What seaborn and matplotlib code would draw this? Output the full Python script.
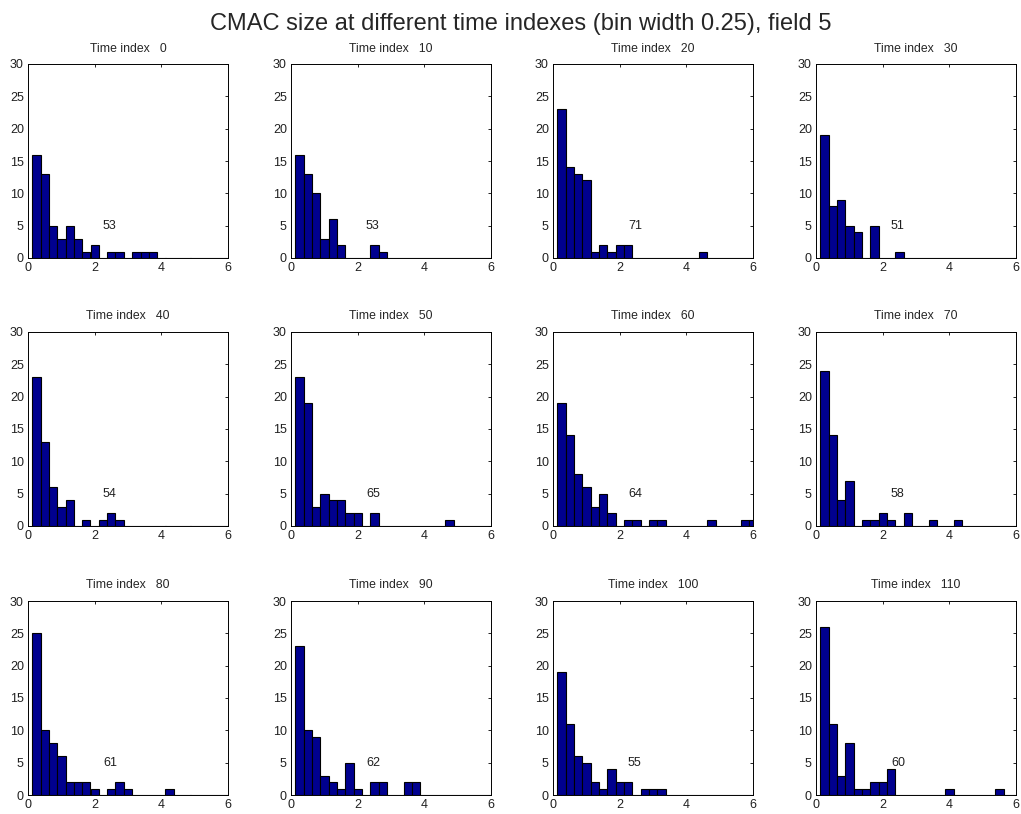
import matplotlib
matplotlib.use("Agg")
import matplotlib.pyplot as plt
import seaborn as sns
import numpy as np

# bin centres 0.25, 0.50, ..., 6.00 (bin width 0.25)
centers = [0.25 * k for k in range(1, 25)]
edges = [0.125 + 0.25 * k for k in range(0, 25)]

time_indexes = [0, 10, 20, 30, 40, 50, 60, 70, 80, 90, 100, 110]

counts_0 = [16, 13, 5, 3, 5, 3, 1, 2, 0, 1, 1, 0, 1, 1, 1, 0, 0, 0, 0, 0, 0, 0, 0, 0]
counts_10 = [16, 13, 10, 3, 6, 2, 0, 0, 0, 2, 1, 0, 0, 0, 0, 0, 0, 0, 0, 0, 0, 0, 0, 0]
counts_20 = [23, 14, 13, 12, 1, 2, 1, 2, 2, 0, 0, 0, 0, 0, 0, 0, 0, 1, 0, 0, 0, 0, 0, 0]
counts_30 = [19, 8, 9, 5, 4, 0, 5, 0, 0, 1, 0, 0, 0, 0, 0, 0, 0, 0, 0, 0, 0, 0, 0, 0]
counts_40 = [23, 13, 6, 3, 4, 0, 1, 0, 1, 2, 1, 0, 0, 0, 0, 0, 0, 0, 0, 0, 0, 0, 0, 0]
counts_50 = [23, 19, 3, 5, 4, 4, 2, 2, 0, 2, 0, 0, 0, 0, 0, 0, 0, 0, 1, 0, 0, 0, 0, 0]
counts_60 = [19, 14, 8, 6, 3, 5, 2, 0, 1, 1, 0, 1, 1, 0, 0, 0, 0, 0, 1, 0, 0, 0, 1, 1]
counts_70 = [24, 14, 4, 7, 0, 1, 1, 2, 1, 0, 2, 0, 0, 1, 0, 0, 1, 0, 0, 0, 0, 0, 0, 0]
counts_80 = [25, 10, 8, 6, 2, 2, 2, 1, 0, 1, 2, 1, 0, 0, 0, 0, 1, 0, 0, 0, 0, 0, 0, 0]
counts_90 = [23, 10, 9, 3, 2, 1, 5, 1, 0, 2, 2, 0, 0, 2, 2, 0, 0, 0, 0, 0, 0, 0, 0, 0]
counts_100 = [19, 11, 6, 5, 2, 1, 4, 2, 2, 0, 1, 1, 1, 0, 0, 0, 0, 0, 0, 0, 0, 0, 0, 0]
counts_110 = [26, 11, 3, 8, 1, 1, 2, 2, 4, 0, 0, 0, 0, 0, 0, 1, 0, 0, 0, 0, 0, 1, 0, 0]

all_counts = [counts_0, counts_10, counts_20, counts_30, counts_40, counts_50,
              counts_60, counts_70, counts_80, counts_90, counts_100, counts_110]

sns.set_style("white")
plt.rcParams['font.family'] = ['Liberation Sans', 'DejaVu Sans']
plt.rcParams['xtick.direction'] = 'in'
plt.rcParams['ytick.direction'] = 'in'

W, H = 1021, 814
fig = plt.figure(figsize=(W / 100, H / 100), dpi=100)
fig.text(0.51, 1 - 24 / H, "CMAC size at different time indexes (bin width 0.25), field 5",
         ha='center', va='center', fontsize=17)

col_left = [28, 291, 553, 816]
row_top = [64, 332, 601]
ax_w, ax_h = 200, 194

for i, (t, cnt) in enumerate(zip(time_indexes, all_counts)):
    r, c = divmod(i, 4)
    ax = fig.add_axes([col_left[c] / W, 1 - (row_top[r] + ax_h) / H, ax_w / W, ax_h / H])
    sns.histplot(x=centers, weights=cnt, bins=edges, ax=ax, color='#00008F',
                 alpha=1, edgecolor='black', linewidth=0.8)
    ax.set_xlim(0, 6)
    ax.set_ylim(0, 30)
    ax.set_xticks([0, 2, 4, 6])
    ax.set_yticks([0, 5, 10, 15, 20, 25, 30])
    ax.tick_params(labelsize=9, length=2.5, width=0.6, top=True, right=True,
                   pad=3, color='black', labelcolor='#202020')
    ax.set_xlabel("")
    ax.set_ylabel("")
    ax.set_title("Time index   %d" % t, fontsize=8.8, pad=9)
    for s in ax.spines.values():
        s.set_linewidth(0.7)
        s.set_color('black')
    ax.text(2.25, 5, str(int(np.sum(cnt))), ha='left', va='center', fontsize=9,
            color='#202020')

fig.savefig("out.png", dpi=100)
